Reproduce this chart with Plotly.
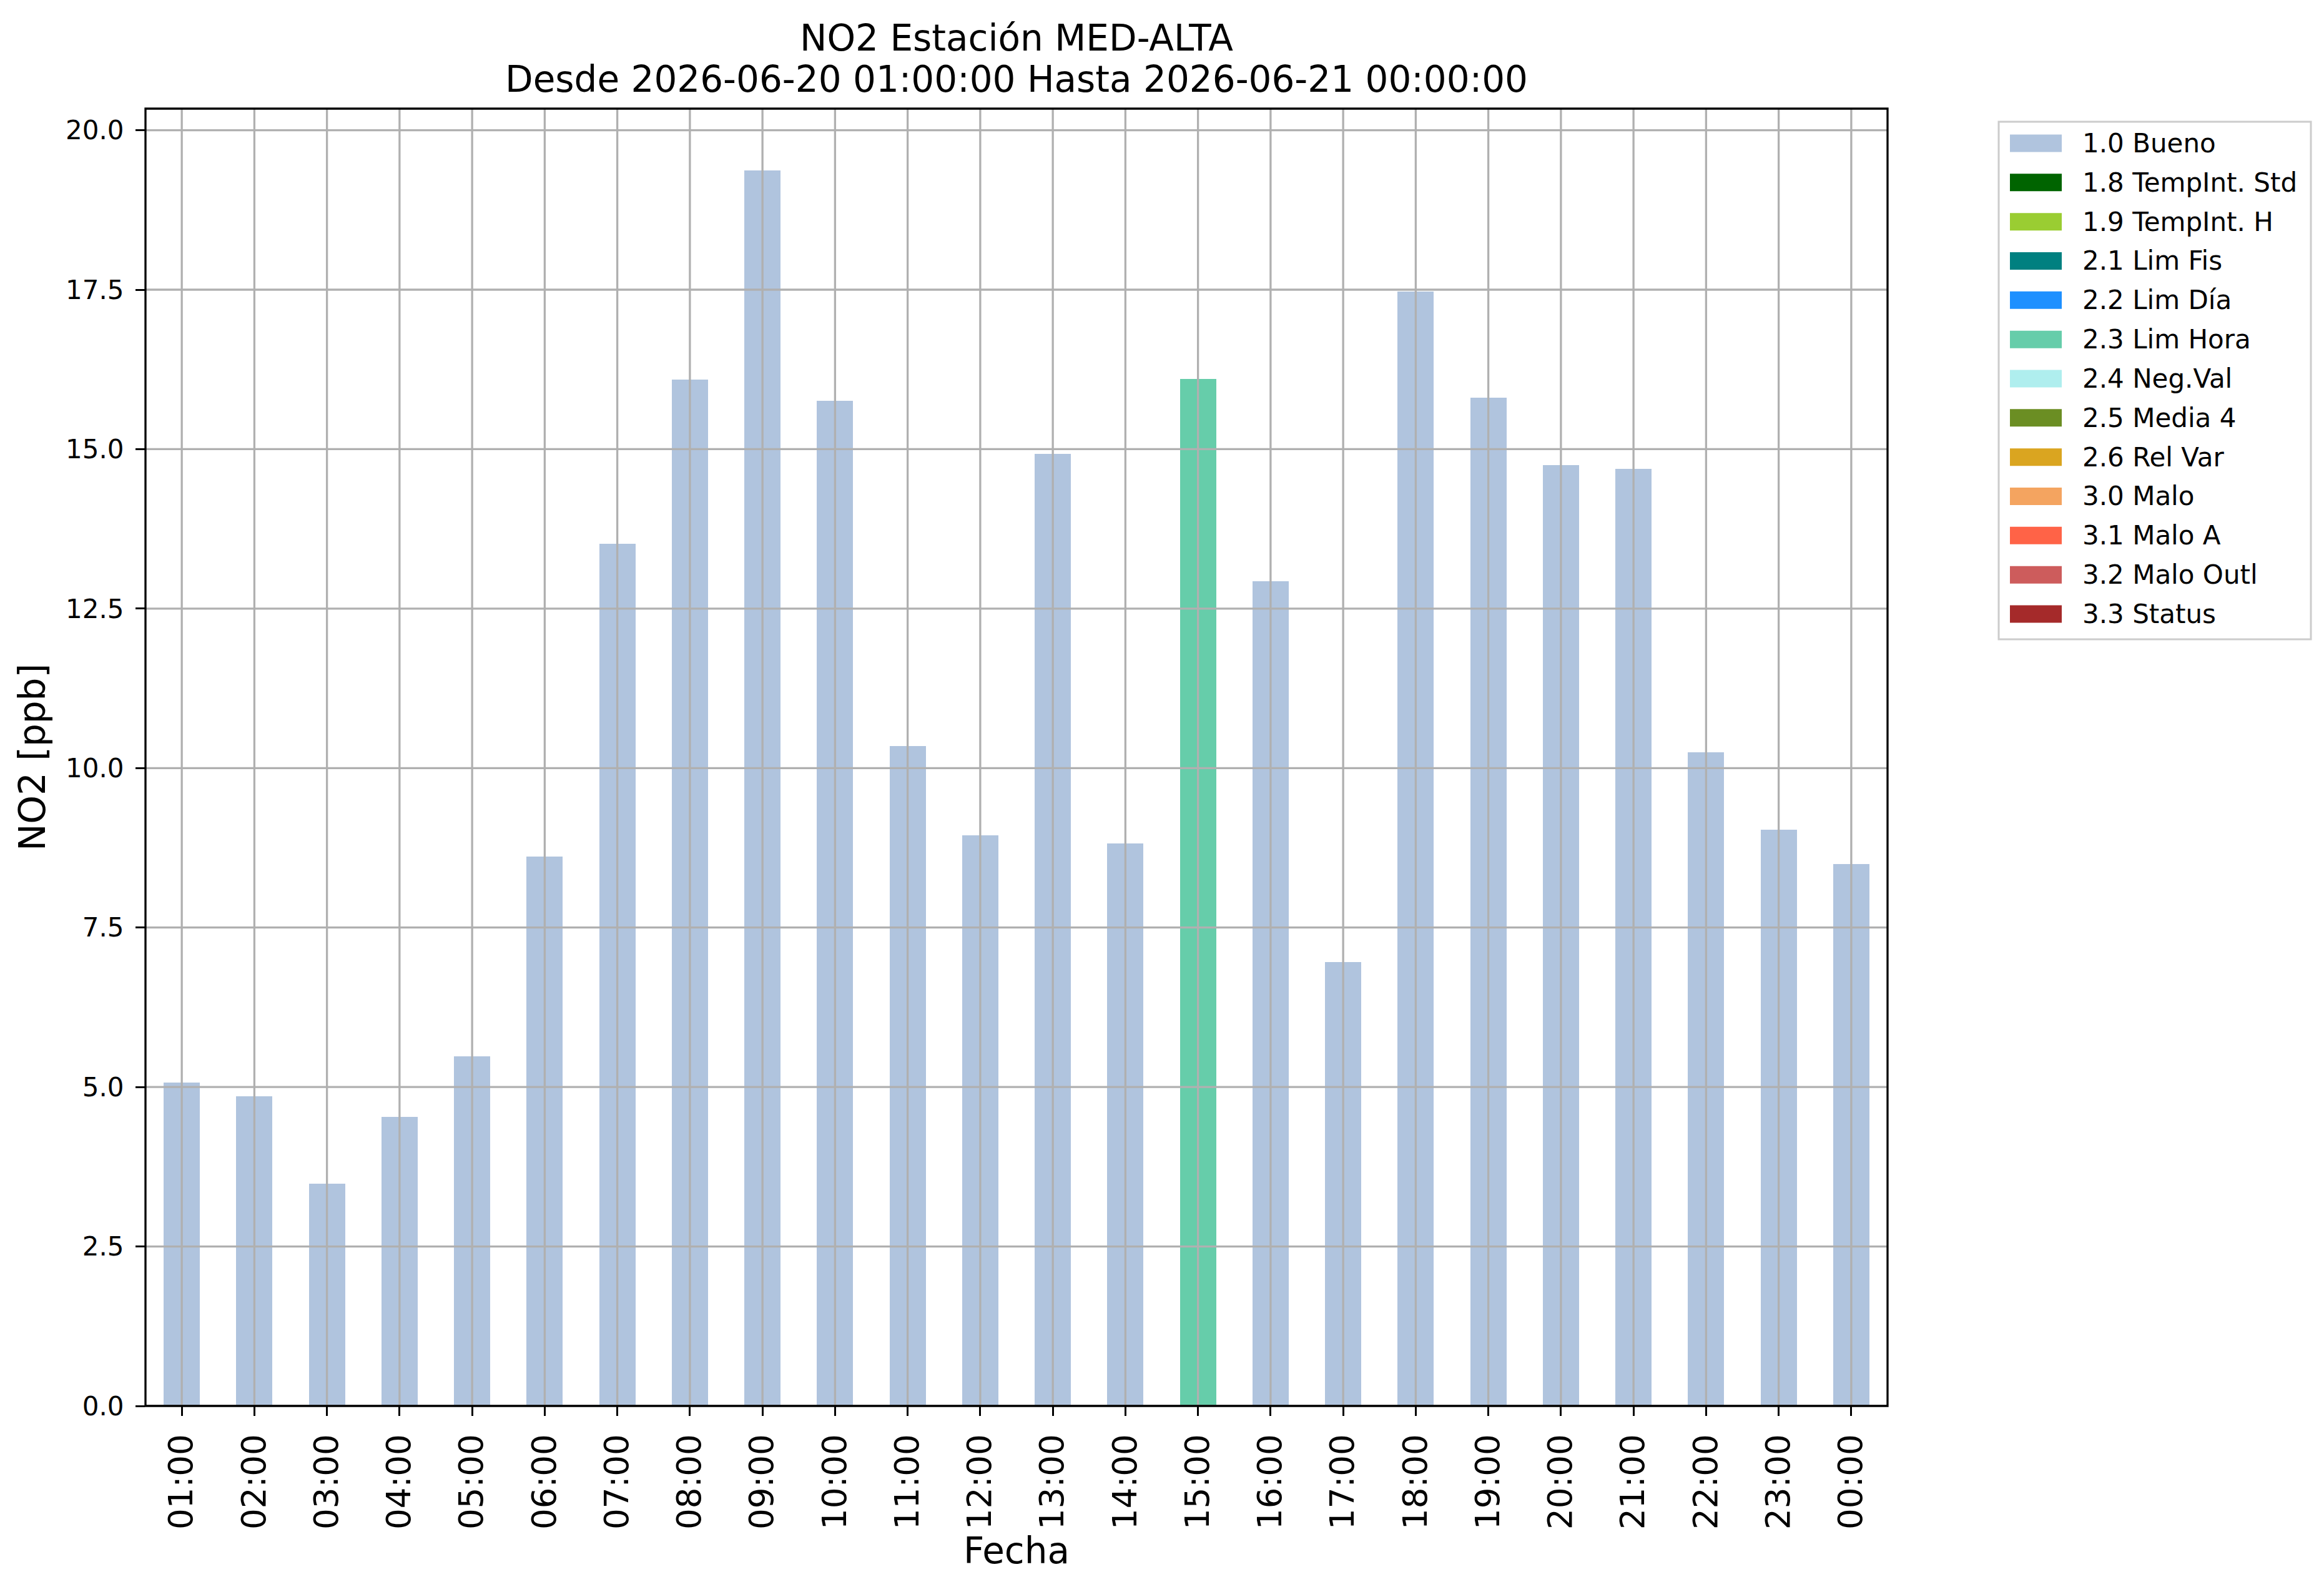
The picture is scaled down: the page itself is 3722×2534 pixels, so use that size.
import plotly.graph_objects as go

# datos
horas = ["01:00", "02:00", "03:00", "04:00", "05:00", "06:00", "07:00", "08:00",
         "09:00", "10:00", "11:00", "12:00", "13:00", "14:00", "15:00", "16:00",
         "17:00", "18:00", "19:00", "20:00", "21:00", "22:00", "23:00", "00:00"]
no2 = [5.07, 4.85, 3.48, 4.53, 5.48, 8.61, 13.52, 16.09, 19.37, 15.76, 10.35, 8.95,
       14.93, 8.82, 16.10, 12.93, 6.96, 17.47, 15.81, 14.75, 14.69, 10.25, 9.03, 8.50]
flag = ["1.0", "1.0", "1.0", "1.0", "1.0", "1.0", "1.0", "1.0",
        "1.0", "1.0", "1.0", "1.0", "1.0", "1.0", "2.3", "1.0",
        "1.0", "1.0", "1.0", "1.0", "1.0", "1.0", "1.0", "1.0"]

codigos = ["1.0", "1.8", "1.9", "2.1", "2.2", "2.3", "2.4", "2.5", "2.6", "3.0", "3.1", "3.2", "3.3"]
nombres = ["1.0 Bueno", "1.8 TempInt. Std", "1.9 TempInt. H", "2.1 Lim Fis", "2.2 Lim Día",
           "2.3 Lim Hora", "2.4 Neg.Val", "2.5 Media 4", "2.6 Rel Var", "3.0 Malo",
           "3.1 Malo A", "3.2 Malo Outl", "3.3 Status"]
colores = ["#b0c4de", "#006400", "#9acd32", "#008080", "#1e90ff", "#66cdaa", "#afeeee",
           "#6b8e23", "#daa520", "#f4a460", "#ff6347", "#cd5c5c", "#a52a2a"]
yticks = [0, 2.5, 5, 7.5, 10, 12.5, 15, 17.5, 20]

titulo1 = "NO2 Estación MED-ALTA"
titulo2 = "Desde 2026-06-20 01:00:00 Hasta 2026-06-21 00:00:00"

W, H = 3722, 2534
L, R, T, B = 225, 3015, 166, 2244
FONT = "DejaVu Sans"
GRID = "#b0b0b0"


def px_x(p):
    return (p - L) / (R - L)


def px_y(p):
    return (B - p) / (B - T)


fig = go.Figure()
for cod, nom, col in zip(codigos, nombres, colores):
    ys = [v if f == cod else None for v, f in zip(no2, flag)]
    fig.add_trace(go.Bar(x=horas, y=ys, name=nom, marker=dict(color=col, line=dict(width=0)),
                         width=0.5, showlegend=False))

# rejilla por encima de las barras (como matplotlib)
shapes = []
for h in horas:
    shapes.append(dict(type="line", xref="x", yref="paper", x0=h, x1=h, y0=0, y1=1,
                       line=dict(color=GRID, width=3.3), layer="above"))
for v in yticks:
    shapes.append(dict(type="line", xref="paper", yref="y", x0=0, x1=1, y0=v, y1=v,
                       line=dict(color=GRID, width=3.3), layer="above"))
shapes.append(dict(type="rect", xref="paper", yref="paper", x0=0, x1=1, y0=0, y1=1,
                   line=dict(color="black", width=3.3), layer="above"))

# leyenda a mano, con rectangulos anchos
shapes.append(dict(type="rect", xref="paper", yref="paper",
                   x0=px_x(3193), x1=px_x(3693), y0=px_y(1016), y1=px_y(187),
                   line=dict(color="#cccccc", width=3), fillcolor="white", layer="above"))
annots = []
for i, (nom, col) in enumerate(zip(nombres, colores)):
    yc = 221.5 + i * 62.83
    shapes.append(dict(type="rect", xref="paper", yref="paper",
                       x0=px_x(3211), x1=px_x(3294), y0=px_y(yc + 14), y1=px_y(yc - 14),
                       line=dict(width=0), fillcolor=col, layer="above"))
    annots.append(dict(text=nom, xref="paper", yref="paper", x=px_x(3325), y=px_y(yc),
                       xanchor="left", yanchor="middle", showarrow=False,
                       font=dict(family=FONT, size=42, color="black")))

# segunda linea del titulo y etiqueta del eje x
annots.append(dict(text=titulo2, xref="paper", yref="paper", x=0.5, y=px_y(119),
                   xanchor="center", yanchor="middle", showarrow=False,
                   font=dict(family=FONT, size=58, color="black")))
annots.append(dict(text="Fecha", xref="paper", yref="paper", x=0.5, y=px_y(2476),
                   xanchor="center", yanchor="middle", showarrow=False,
                   font=dict(family=FONT, size=58, color="black")))

fig.update_layout(
    width=W, height=H,
    margin=dict(l=L, r=W - R, t=T, b=H - B, autoexpand=False),
    paper_bgcolor="white", plot_bgcolor="white",
    barmode="stack",
    font=dict(family=FONT, size=42, color="black"),
    title=dict(text=titulo1, x=0.5, xref="paper", xanchor="center",
               y=1 - 53 / H, yref="container", yanchor="middle",
               font=dict(family=FONT, size=58, color="black")),
    shapes=shapes, annotations=annots,
)
fig.update_xaxes(
    type="category", categoryorder="array", categoryarray=horas,
    range=[-0.5, len(horas) - 0.5], showgrid=False, zeroline=False, showline=False,
    ticks="outside", ticklen=15, tickwidth=3.3, tickcolor="black",
    tickangle=-90, tickfont=dict(family=FONT, size=53), ticklabelstandoff=8,
    automargin=False,
)
fig.update_yaxes(
    range=[0, max(no2) * 1.05], showgrid=False, zeroline=False, showline=False,
    tickmode="array", tickvals=yticks, ticktext=[f"{v:.1f}" for v in yticks],
    ticks="outside", ticklen=15, tickwidth=3.3, tickcolor="black",
    tickfont=dict(family=FONT, size=42), ticklabelstandoff=10,
    title=dict(text="NO2 [ppb]", font=dict(family=FONT, size=58), standoff=13),
    automargin=False,
)

fig.write_html("out.html")
